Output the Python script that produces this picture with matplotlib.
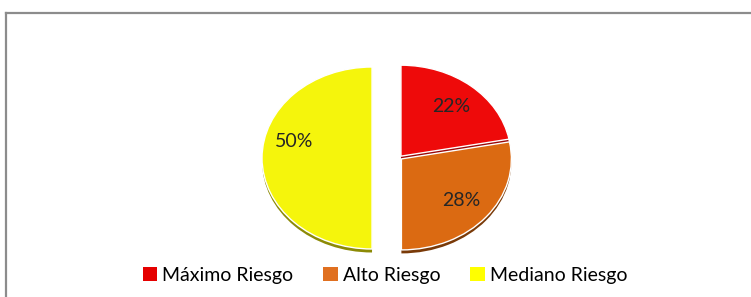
import matplotlib.pyplot as plt
from matplotlib.lines import Line2D
from matplotlib.patches import Rectangle

categories = ["Máximo Riesgo", "Alto Riesgo", "Mediano Riesgo"]
shares = [22, 28, 50]
face_colors = ["#EE0A0A", "#DB6A12", "#F5F50C"]
shade_colors = ["#9A0808", "#7A3A08", "#8C8A06"]
legend_colors = ["#E50000", "#E07020", "#FFFF00"]

W, H = 751, 297
fig = plt.figure(figsize=(W / 100, H / 100), dpi=100)
fig.patch.set_facecolor("white")

# chart frame: only the top and left edges are inside the picture
top = 1 - 12.5 / H
left = 6.5 / W
fig.add_artist(Line2D([left, 1.05], [top, top], transform=fig.transFigure,
                      color="#8c8c8c", linewidth=1.6))
fig.add_artist(Line2D([left, left], [top, -0.05], transform=fig.transFigure,
                      color="#8c8c8c", linewidth=1.6))

# pie axes, stretched so the pie is a little wider than tall
rx, ry = 110, 91
cx, cy = 386, H - 158
span = 1.3
ax = fig.add_axes([(cx - span * rx) / W, (cy - span * ry) / H,
                   2 * span * rx / W, 2 * span * ry / H])

# per-slice offsets (data units) giving the split look of the reference
offsets = [(0.136, 0.02), (0.14, -0.01), (-0.127, 0.0)]
depth = 3.5 / ry

shade, _ = ax.pie(shares, colors=shade_colors, startangle=90, counterclock=False,
                  wedgeprops=dict(linewidth=0))
for w, (dx, dy) in zip(shade, offsets):
    w.set_center((dx, dy - depth))

wedges, _, autotexts = ax.pie(shares, colors=face_colors, startangle=90, counterclock=False,
                              autopct="%1.0f%%", pctdistance=0.71,
                              wedgeprops=dict(linewidth=1.0, edgecolor="white"),
                              textprops=dict(fontsize=14, color="#262626", family="Lato"))
for w, t, (dx, dy) in zip(wedges, autotexts, offsets):
    w.set_center((dx, dy))
    x, y = t.get_position()
    t.set_position((x + dx, y + dy))
# yellow label sits a bit higher than its mid-angle
x, y = autotexts[2].get_position()
autotexts[2].set_position((x, y + 0.18))

ax.set_aspect("auto")
ax.set_xlim(-span, span)
ax.set_ylim(-span, span)
ax.axis("off")

handles = [Rectangle((0, 0), 1, 1, facecolor=c, edgecolor="none") for c in legend_colors]
fig.legend(handles, categories, loc="center", bbox_to_anchor=(385 / W, 1 - 275 / H),
           ncol=3, frameon=False, handlelength=0.75, handleheight=0.75, handletextpad=0.25,
           columnspacing=1.55, prop=dict(family="Lato", size=14))

fig.savefig("out.png", dpi=100, facecolor="white")
